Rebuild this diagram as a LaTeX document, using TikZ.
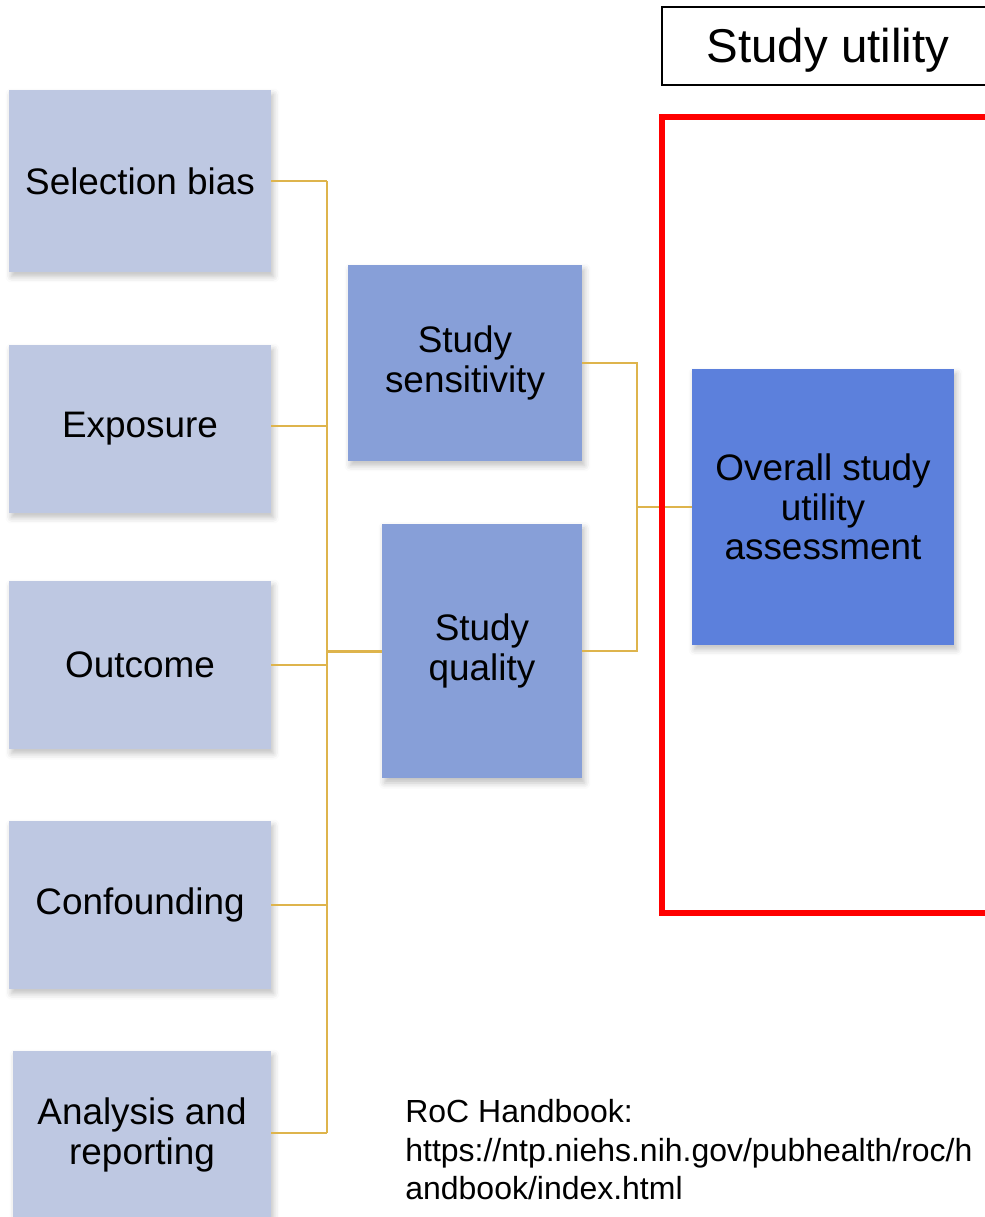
\documentclass[tikz,border=0pt]{standalone}
\usepackage{fontspec}
\setmainfont{Liberation Sans}
\usetikzlibrary{shadows.blur}

\definecolor{facetfill}{RGB}{190,200,226}
\definecolor{midfill}{RGB}{135,159,216}
\definecolor{topfill}{RGB}{92,128,220}
\definecolor{linkgold}{RGB}{222,180,76}

\begin{document}
\begin{tikzpicture}[
  x=0.02cm, y=-0.02cm,
  font=\fontsize{21}{22.5}\selectfont,
  card/.style={inner sep=2pt,align=center,
    blur shadow={shadow xshift=0.5mm,shadow yshift=-0.9mm,shadow blur radius=1.2mm,shadow opacity=25}},
  facet/.style={card,fill=facetfill,minimum width=5.24cm,minimum height=3.36cm},
  summary/.style={card,fill=midfill},
  link/.style={draw=linkgold,line width=1.1pt}
]
\useasboundingbox (0,0) rectangle (984,1217);

% five domains on the left
\node[facet,minimum height=3.64cm] (sel) at (140,181) {Selection bias};
\node[facet] (exp) at (140,429) {Exposure};
\node[facet] (out) at (140,665) {Outcome};
\node[facet] (con) at (140,905) {Confounding};
\node[facet,minimum width=5.16cm] (ana) at (142,1135) {Analysis and\\reporting};

% the two summaries
\node[summary,minimum width=4.68cm,minimum height=3.92cm] (sens) at (465,363) {Study\\sensitivity};
\node[summary,minimum width=4.0cm,minimum height=5.1cm] (qual) at (482,651) {Study\\quality};

\coordinate (lbus) at (327,0);
\coordinate (rbus) at (637,0);

\foreach \n in {sel,out,con}{
  \draw[link] (\n.east) -- (\n.east -| lbus);
}
\draw[link] ([yshift=0.06cm]exp.east) -- ([yshift=0.06cm]exp.east -| lbus);
\draw[link] ([yshift=0.04cm]ana.east) -- ([yshift=0.04cm]ana.east -| lbus);
\draw[link] (sel.east -| lbus) -- ([yshift=0.04cm]ana.east -| lbus);
\draw[link,line width=1.7pt] (qual.west -| lbus) -- (qual.west);

\draw[link] (sens.east) -- (sens.east -| rbus) |- (qual.east);

% overall box and its frame
\node[card,fill=topfill,minimum width=5.24cm,minimum height=5.52cm] (ovr) at (823,507) {Overall study\\utility\\assessment};
\draw[link] (ovr.west -| rbus) -- (ovr.west);
\draw[red,line width=3pt] (1000,117) -- (662,117) -- (662,913) -- (1000,913);

\node[draw,line width=0.8pt,minimum width=6.64cm,minimum height=1.56cm,text depth=0.05em,font=\fontsize{27}{30}\selectfont] (title) at (828,46) {Study utility};

\node[anchor=west,align=left,inner sep=0pt,font=\fontsize{18.2}{21.9}\selectfont] (src) at (405,1150) {RoC Handbook:\\https://ntp.niehs.nih.gov/pubhealth/roc/h\\andbook/index.html};
\end{tikzpicture}
\end{document}
